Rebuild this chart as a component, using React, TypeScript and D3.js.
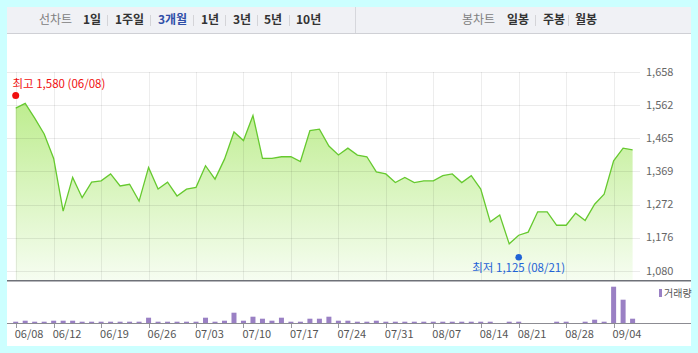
import React from 'react';
import * as d3 from 'd3';

// daily closes, 06/08 .. 09/06 (66 trading days)
const closes = [
  1552, 1566, 1523, 1477, 1406, 1253, 1351, 1292, 1337, 1341,
  1361, 1326, 1331, 1282, 1380, 1317, 1337, 1297, 1317, 1322,
  1385, 1346, 1404, 1483, 1458, 1531, 1406, 1406, 1411, 1411,
  1397, 1487, 1491, 1442, 1416, 1436, 1416, 1411, 1367, 1361,
  1336, 1351, 1336, 1341, 1341, 1356, 1361, 1336, 1356, 1317,
  1222, 1242, 1158, 1183, 1192, 1251, 1251, 1212, 1212, 1247,
  1226, 1273, 1302, 1399, 1436, 1431,
];

// volume (thousand shares)
const volumes = [
  13, 23, 13, 13, 23, 23, 23, 13, 13, 13,
  13, 13, 13, 13, 53, 13, 13, 13, 13, 13,
  53, 13, 23, 103, 23, 63, 43, 23, 53, 13,
  13, 43, 43, 63, 23, 23, 13, 13, 23, 13,
  13, 13, 13, 13, 13, 13, 13, 13, 13, 13,
  13, 0, 13, 13, 0, 0, 0, 13, 13, 0,
  13, 33, 13, 363, 233, 43,
];

const tickLabels = ['06/08', '06/12', '06/19', '06/26', '07/03', '07/10', '07/17', '07/24', '07/31', '08/07', '08/14', '08/21', '08/28', '09/04'];
const tickIndex = [0, 4, 9, 14, 19, 24, 29, 34, 39, 44, 49, 53, 58, 63];
const priceTicks = [1080, 1176, 1272, 1369, 1465, 1562, 1658];
const priceTickLabels = ['1,080', '1,176', '1,272', '1,369', '1,465', '1,562', '1,658'];

const periodTabs = ['1일', '1주일', '3개월', '1년', '3년', '5년', '10년'];
const candleTabs = ['일봉', '주봉', '월봉'];

const highMark = { value: 1580, label: '최고 1,580 (06/08)', index: 0 };
const lowMark = { value: 1125, label: '최저 1,125 (08/21)', index: 53 };

const FONT = '"Noto Sans CJK KR", "Noto Sans", sans-serif';

export default function App() {
  const W = 698;
  const H = 353;

  // scales
  const x = d3.scaleLinear().domain([0, closes.length - 1]).range([15.7, 632.6]);
  const y = d3.scaleLinear().domain([1080, 1658]).range([270.7, 71.7]);
  const vy = d3.scaleLinear().domain([0, 363]).range([323, 286.7]);

  const areaBottom = 280;

  const line = d3.line<number>()
    .x((d, i) => x(i))
    .y(d => y(d));

  const area = d3.area<number>()
    .x((d, i) => x(i))
    .y0(areaBottom)
    .y1(d => y(d));

  // header layout
  const periodX = [83, 115, 158, 201, 233, 264, 296];
  const periodSep = [107, 150, 193, 225, 257, 289];
  const candleX = [507, 543, 575];
  const candleSep = [535, 568];

  return (
    <svg width={W} height={H} style={{ position: 'absolute', left: 0, top: 0 }} fontFamily={FONT}>
      <defs>
        <linearGradient id="priceFill" x1="0" y1="0" x2="0" y2="1" gradientUnits="userSpaceOnUse"
          gradientTransform={`translate(0, 72) scale(1, 208)`}>
          <stop offset="0%" stopColor="#b4ea7e" />
          <stop offset="100%" stopColor="#f6fdf1" />
        </linearGradient>
      </defs>
      <rect x={0} y={0} width={W} height={H} fill="#ccffff" />
      <rect x={7} y={7} width={684} height={339} fill="#ffffff" />

      {/* header */}
      <rect x={7} y={7} width={684} height={26} fill="#f0f1f5" />
      <line x1={7} x2={691} y1={33.5} y2={33.5} stroke="#cfd0d5" />
      <line x1={355.5} x2={355.5} y1={7} y2={33} stroke="#d6d7dc" />
      <text x={39} y={24} fontSize={12} fill="#808080">선차트</text>
      {periodTabs.map((t, i) => (
        <text key={t} x={periodX[i]} y={24} fontSize={12} fontWeight="bold"
          fill={t === '3개월' ? '#2f4fa8' : '#333333'}>{t}</text>
      ))}
      {periodSep.map((s, i) => (
        <line key={i} x1={s + 0.5} x2={s + 0.5} y1={15} y2={26} stroke="#d4d4d8" />
      ))}
      <text x={462} y={24} fontSize={12} fill="#808080">봉차트</text>
      {candleTabs.map((t, i) => (
        <text key={t} x={candleX[i]} y={24} fontSize={12} fontWeight="bold" fill="#333333">{t}</text>
      ))}
      {candleSep.map((s, i) => (
        <line key={i} x1={s + 0.5} x2={s + 0.5} y1={15} y2={26} stroke="#d4d4d8" />
      ))}

      {/* price area */}
      <path d={area(closes) || ''} fill="url(#priceFill)" />
      {priceTicks.map((v, i) => (
        <line key={v} x1={7} x2={640} y1={Math.round(y(v)) + 0.5} y2={Math.round(y(v)) + 0.5}
          stroke="#000" strokeOpacity={0.08} />
      ))}
      {tickIndex.map(ti => (
        <line key={ti} x1={Math.round(x(ti)) + 0.5} x2={Math.round(x(ti)) + 0.5} y1={72} y2={areaBottom}
          stroke="#000" strokeOpacity={0.07} />
      ))}
      <path d={line(closes) || ''} fill="none" stroke="#66c92f" strokeWidth={1.3} />
      {priceTicks.map((v, i) => (
        <text key={v} x={646} y={y(v)} dy="0.35em" fontSize={11} fill="#666666">{priceTickLabels[i]}</text>
      ))}

      {/* high / low markers */}
      <circle cx={x(highMark.index)} cy={y(highMark.value) - 3} r={3.5} fill="#f01010" />
      <text x={12.5} y={88} fontSize={11.5} fill="#f01010">{highMark.label}</text>
      <circle cx={x(lowMark.index)} cy={y(lowMark.value) + 2} r={3.3} fill="#1f63d6" />
      <text x={x(lowMark.index)} y={272} fontSize={11.5} fill="#1f63d6" textAnchor="middle">{lowMark.label}</text>

      {/* separator between panels */}
      <line x1={7} x2={691} y1={280.8} y2={280.8} stroke="#6e7178" strokeWidth={1.4} />

      {/* volume */}
      {volumes.map((v, i) => (
        v > 0 ? (
          <rect key={i} x={x(i) - 2.5} y={vy(v)} width={5} height={vy(0) - vy(v)} fill="#9a80c4" />
        ) : null
      ))}
      <line x1={7} x2={691} y1={323.5} y2={323.5} stroke="#8c8c92" />
      {tickIndex.map((ti, i) => (
        <g key={ti}>
          <line x1={Math.round(x(ti)) + 0.5} x2={Math.round(x(ti)) + 0.5} y1={324} y2={328} stroke="#9a9aa0" />
          <text x={x(ti) - 1} y={338} fontSize={11} fill="#555555">{tickLabels[i]}</text>
        </g>
      ))}
      <rect x={659} y={289} width={3} height={8} fill="#9a80c4" />
      <text x={664} y={297} fontSize={10} fill="#555555">거래량</text>
    </svg>
  );
}
